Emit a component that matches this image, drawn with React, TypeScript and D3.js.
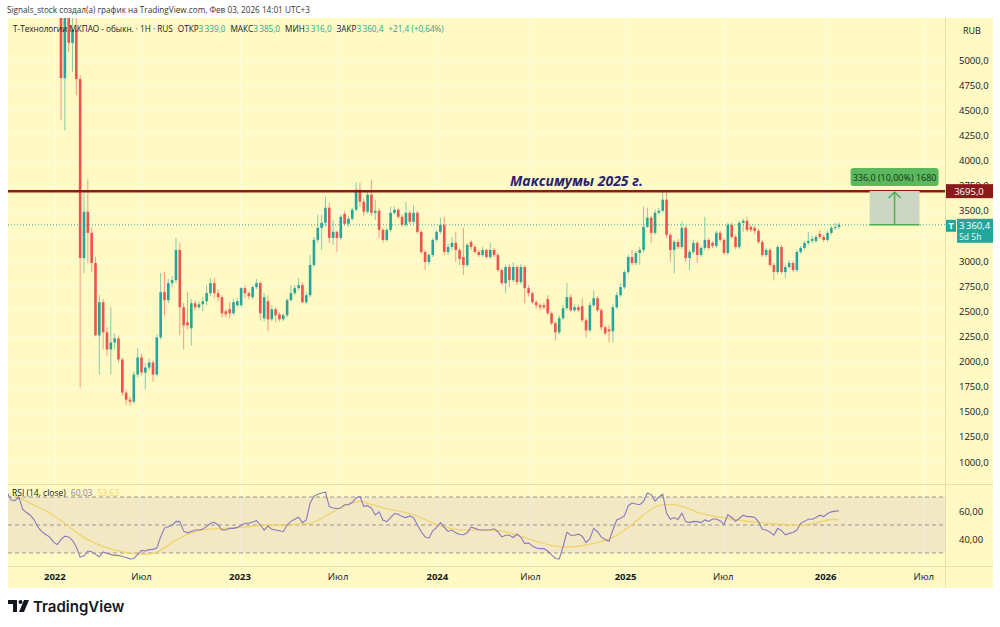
import React from 'react';
import * as d3 from 'd3';

// weekly candles: [open, high, low, close]
type Bar = [number, number, number, number];

const bars2022: Bar[] = [
  [5700, 5900, 4400, 4820], [4820, 5700, 4300, 5550], [5550, 5800, 5080, 5170], [5170, 5550, 4880, 5300],
  [5300, 5450, 4650, 4810], [4810, 4850, 1740, 3030], [3030, 3680, 2880, 3490], [3490, 3810, 2980, 3280],
  [3280, 3330, 2890, 2980], [2980, 3040, 2250, 2260], [2260, 2660, 1870, 2590], [2590, 2620, 2120, 2290],
  [2290, 2340, 2060, 2120], [2120, 2540, 1870, 2190], [2190, 2280, 2120, 2230], [2230, 2260, 1990, 2020],
  [2020, 2040, 1660, 1690], [1690, 1720, 1570, 1620], [1620, 1650, 1560, 1600], [1600, 1900, 1580, 1870],
  [1870, 2130, 1840, 2040], [2040, 2080, 1860, 1890], [1890, 1980, 1720, 1940], [1940, 2030, 1910, 1990],
  [1990, 2010, 1800, 1870], [1870, 2270, 1850, 2240], [2240, 2880, 2220, 2690], [2690, 2890, 2460, 2610],
  [2610, 2820, 2580, 2780], [2780, 2850, 2740, 2810], [2810, 3230, 2780, 3110], [3110, 3180, 2260, 2540],
  [2540, 2580, 2120, 2360], [2390, 2690, 2320, 2360], [2330, 2620, 2160, 2580], [2580, 2610, 2510, 2540],
  [2540, 2600, 2520, 2570], [2570, 2640, 2500, 2600], [2600, 2760, 2560, 2680], [2680, 2830, 2650, 2780],
  [2780, 2830, 2630, 2680], [2680, 2720, 2600, 2640], [2640, 2660, 2440, 2480], [2500, 2520, 2440, 2470],
  [2520, 2590, 2430, 2480], [2480, 2620, 2460, 2590], [2560, 2630, 2540, 2600],
];

const bars2023: Bar[] = [
  [2560, 2740, 2540, 2730], [2730, 2760, 2630, 2680], [2680, 2700, 2620, 2650], [2640, 2760, 2620, 2740],
  [2740, 2820, 2720, 2780], [2780, 2800, 2410, 2480], [2430, 2680, 2400, 2640], [2600, 2660, 2300, 2420],
  [2420, 2560, 2400, 2520], [2520, 2540, 2390, 2460], [2470, 2490, 2400, 2420], [2420, 2480, 2400, 2460],
  [2460, 2630, 2440, 2610], [2610, 2760, 2600, 2680], [2680, 2760, 2660, 2730], [2730, 2830, 2710, 2760],
  [2760, 2790, 2580, 2590], [2590, 2690, 2570, 2660], [2660, 3060, 2640, 2960], [2960, 3240, 2940, 3210],
  [3210, 3460, 3180, 3330], [3330, 3460, 3110, 3380], [3380, 3640, 3340, 3530], [3530, 3580, 3180, 3230],
  [3230, 3410, 3160, 3290], [3290, 3300, 3090, 3230], [3230, 3460, 3210, 3440], [3470, 3500, 3350, 3370],
  [3370, 3450, 3340, 3420], [3420, 3530, 3400, 3510], [3510, 3780, 3490, 3710], [3710, 3780, 3540, 3590],
  [3590, 3620, 3450, 3490], [3490, 3690, 3470, 3660], [3660, 3810, 3450, 3480], [3480, 3610, 3410, 3500],
  [3500, 3530, 3230, 3310], [3310, 3330, 3180, 3210], [3210, 3330, 3190, 3310], [3310, 3540, 3290, 3480],
  [3480, 3540, 3460, 3510], [3510, 3530, 3420, 3440], [3440, 3460, 3340, 3360], [3360, 3590, 3340, 3480],
  [3480, 3500, 3370, 3390], [3390, 3560, 3370, 3480], [3480, 3500, 3270, 3290], [3290, 3300, 3070, 3090],
  [3090, 3110, 2910, 2990], [2990, 3080, 2960, 3060], [3060, 3230, 3040, 3210], [3210, 3310, 3190, 3290],
];

const bars2024: Bar[] = [
  [3290, 3430, 3270, 3360], [3360, 3440, 3060, 3090], [3090, 3170, 3060, 3140], [3140, 3240, 3110, 3180],
  [3180, 3290, 2990, 3110], [3110, 3130, 2960, 3020], [3040, 3330, 2860, 2960], [2960, 3180, 2940, 3160],
  [3190, 3210, 3110, 3140], [3140, 3160, 3070, 3090], [3090, 3110, 3040, 3060], [3060, 3140, 3040, 3110],
  [3110, 3120, 3020, 3040], [3040, 3180, 3020, 3110], [3110, 3130, 3040, 3060], [3060, 3080, 2890, 2910],
  [2910, 2930, 2760, 2780], [2780, 2960, 2680, 2940], [2940, 2970, 2740, 2810], [2810, 2990, 2790, 2940],
  [2940, 2960, 2760, 2790], [2790, 2970, 2770, 2940], [2940, 2960, 2580, 2730], [2730, 2760, 2650, 2680],
  [2680, 2700, 2570, 2590], [2590, 2610, 2530, 2560], [2560, 2580, 2510, 2540], [2560, 2580, 2520, 2540],
  [2620, 2660, 2460, 2480], [2480, 2500, 2360, 2380], [2380, 2400, 2210, 2290], [2290, 2460, 2270, 2430],
  [2430, 2560, 2410, 2530], [2530, 2780, 2510, 2640], [2640, 2670, 2490, 2510], [2510, 2570, 2490, 2540],
  [2540, 2560, 2490, 2510], [2550, 2630, 2390, 2410], [2410, 2430, 2240, 2310], [2310, 2590, 2290, 2560],
  [2560, 2710, 2540, 2630], [2630, 2650, 2490, 2510], [2510, 2530, 2310, 2340], [2340, 2360, 2260, 2280],
  [2320, 2360, 2190, 2300], [2300, 2570, 2190, 2540], [2540, 2690, 2520, 2660], [2660, 2780, 2640, 2740],
  [2740, 2910, 2720, 2890],
];

const bars2025: Bar[] = [
  [2890, 3060, 2870, 3040], [3040, 3110, 2960, 2980], [2980, 3100, 2960, 3080], [3080, 3140, 2960, 3110],
  [3110, 3540, 3090, 3340], [3340, 3530, 3330, 3430], [3430, 3450, 3180, 3280], [3280, 3510, 3260, 3480],
  [3480, 3530, 3460, 3500], [3500, 3690, 3480, 3610], [3610, 3690, 3230, 3260], [3260, 3280, 2990, 3110],
  [3110, 3210, 2880, 3190], [3190, 3220, 3120, 3140], [3140, 3390, 3120, 3330], [3330, 3350, 2990, 3030],
  [3030, 3110, 2910, 3090], [3090, 3210, 3070, 3180], [3180, 3200, 2980, 3060], [3060, 3150, 3040, 3130],
  [3130, 3440, 3110, 3210], [3210, 3230, 3110, 3130], [3180, 3200, 3130, 3150], [3150, 3300, 3130, 3280],
  [3280, 3300, 3190, 3210], [3210, 3230, 3060, 3080], [3080, 3380, 3060, 3360], [3360, 3380, 3220, 3240],
  [3240, 3260, 3120, 3140], [3140, 3400, 3120, 3380], [3380, 3420, 3290, 3400], [3400, 3440, 3290, 3310],
  [3340, 3360, 3290, 3310], [3330, 3350, 3270, 3300], [3300, 3320, 3170, 3190], [3190, 3210, 3040, 3060],
  [3060, 3130, 3040, 3110], [3110, 3130, 2940, 2960], [2960, 2980, 2810, 2890], [2890, 3160, 2870, 3140],
  [3140, 3160, 2870, 2890], [2890, 2960, 2830, 2940], [2940, 3010, 2920, 2980], [2980, 3000, 2890, 2910],
  [2910, 3110, 2890, 3090], [3090, 3150, 3070, 3130], [3130, 3200, 3110, 3180], [3180, 3290, 3160, 3200],
  [3200, 3250, 3180, 3220], [3200, 3260, 3180, 3240], [3270, 3310, 3220, 3240], [3240, 3260, 3190, 3210],
  [3210, 3300, 3190, 3280], [3280, 3350, 3260, 3330], [3330, 3380, 3310, 3339], [3339, 3385, 3316, 3360.4],
];

// RSI(14) per bar; the first 14 belong to bars above the visible price range
const rsiBefore = [73.0, 67.9, 67.4, 70.0, 61.3, 58.9, 57.0, 53.6, 48.5, 45.2, 43.2, 41.5, 37.9, 36.0];
const rsi2022 = [
  39.6, 42.0, 41.5, 39.1, 34.3, 27.0, 27.8, 31.4, 30.9, 29.0, 27.3, 30.7, 29.7, 29.0, 28.3, 28.3,
  27.5, 26.8, 25.8, 26.1, 29.0, 31.9, 31.4, 32.4, 32.6, 33.6, 41.5, 47.8, 48.8, 49.7, 52.6, 52.4,
  45.6, 44.4, 45.4, 46.4, 46.4, 47.1, 48.8, 51.2, 51.9, 50.0, 46.4, 46.4, 47.6, 47.6, 48.3,
];
const rsi2023 = [
  49.7, 51.2, 51.2, 52.2, 53.1, 50.0, 46.4, 49.3, 46.9, 46.4, 45.9, 45.2, 50.0, 52.6, 54.1, 55.5,
  51.7, 53.6, 65.7, 70.5, 72.0, 72.9, 73.4, 63.3, 62.1, 61.8, 62.1, 64.5, 64.5, 66.2, 69.3, 70.5,
  63.3, 63.8, 62.1, 57.2, 59.4, 53.6, 52.4, 55.3, 58.2, 57.7, 56.0, 55.3, 56.5, 55.3, 50.0, 45.2,
  41.5, 40.6, 45.9, 48.1,
];
const rsi2024 = [
  51.7, 48.3, 45.4, 46.4, 44.4, 43.2, 43.0, 44.4, 48.5, 47.6, 46.6, 46.4, 46.4, 46.6, 47.3, 45.2,
  41.5, 42.7, 42.7, 41.1, 43.5, 41.1, 36.7, 37.2, 35.0, 33.6, 33.1, 33.1, 31.4, 28.7, 26.1, 25.8,
  34.3, 44.9, 42.7, 42.7, 43.5, 42.0, 37.4, 40.3, 47.6, 45.2, 41.3, 39.6, 38.4, 46.4, 53.6, 54.8,
  56.5,
];
const rsi2025 = [
  63.8, 65.7, 65.0, 64.5, 66.9, 72.9, 71.7, 67.1, 70.0, 72.0, 58.4, 54.1, 55.3, 53.9, 58.4, 52.4,
  51.7, 52.6, 52.4, 51.7, 53.6, 52.6, 54.3, 54.3, 52.9, 50.5, 57.2, 55.5, 52.6, 54.8, 57.0, 56.0,
  56.0, 55.3, 52.4, 46.9, 46.4, 44.9, 42.7, 47.6, 45.9, 43.0, 44.0, 44.7, 46.4, 51.2, 52.6, 54.1,
  54.1, 55.3, 57.0, 56.0, 58.2, 59.4, 59.9, 60.03,
];

// RSI moving average, read at bar positions
const rsiMaBar = [
  -12.5, -7.3, -2.9, 1.5, 5.8, 10.2, 14.5, 18.9, 21.5, 25, 29.3, 33.7, 38, 43.3, 49.3, 53.7, 58,
  62.4, 65, 67.6, 71.1, 75.5, 78, 79.8, 84.2, 88.5, 92.9, 97.2, 101.6, 106, 110.3, 114.6, 119,
  123.3, 127.7, 132.1, 136.4, 140.7, 145.1, 149.4, 153.8, 157.3, 159.9, 163.4, 166.8, 171.2, 175.5,
  179.9, 184.2, 188.6, 192.9, 197.3, 201.6, 203,
];
const rsiMaValue = [
  71.7, 64.5, 58.4, 50.0, 41.5, 35.5, 31.9, 29.5, 29.0, 30.7, 37.9, 44.0, 46.9, 47.6, 48.8, 50.0, 50.0,
  50.7, 51.2, 54.1, 59.7, 65.2, 66.9, 65.7, 62.1, 59.7, 56.5, 51.2, 47.6, 46.4, 46.4, 45.9, 42.7,
  39.1, 35.5, 34.3, 35.5, 37.9, 42.7, 51.2, 60.9, 64.5, 64.5, 62.1, 58.4, 56.0, 54.1,
  52.4, 51.2, 50.5, 50.0, 51.7, 54.1, 53.63,
];

const priceTicks = [5000, 4750, 4500, 4250, 4000, 3750, 3500, 3250, 3000, 2750, 2500, 2250, 2000, 1750, 1500, 1250, 1000];
const rsiTicks = [60, 40];
const rsiLevels = [70, 50, 30];
const timeTickBar = [-1.6, 21, 46.7, 72.3, 98.2, 122.5, 147.3, 172.8, 199.5, 225.1];
const timeTickLabel = ['2022', 'Июл', '2023', 'Июл', '2024', 'Июл', '2025', 'Июл', '2026', 'Июл'];

const levelPrice = 3695;
const lastPrice = 3360.4;
const measureBars = [211, 224];
const measureChange = 336;

const W = 1000;
const H = 627;
const L = 8;
const R = 945;
const AX = 993;
const TOP = 18;
const MAIN_B = 484;
const RSI_B = 566;
const BOTTOM = 588;

const BG = '#fff9c4';
const UP = '#26a69a';
const DOWN = '#ef5350';
const FONT = '"Open Sans", "Noto Sans", sans-serif';

const locale = d3.formatLocale({decimal: ',', thousands: '\u2009', grouping: [3], currency: ['', '']});
const fmt1 = locale.format(',.1f');   // grouped, for legend and price boxes
const fmtAxis = locale.format('.1f');
const fmt2 = locale.format('.2f');

const App = () => {
  const bars = [...bars2022, ...bars2023, ...bars2024, ...bars2025];
  const rsi = [...rsiBefore, ...rsi2022, ...rsi2023, ...rsi2024, ...rsi2025];
  const rsiStart = -rsiBefore.length;

  const x = d3.scaleLinear().domain([0, bars.length - 1]).range([61, 839]);
  const y = d3.scaleLinear().domain([1000, 5000]).range([462, 60]);
  const yR = d3.scaleLinear().domain([30, 70]).range([553, 497]);
  const step = x(1) - x(0);
  const bw = Math.max(1.5, step * 0.68);

  const rsiLine = d3.line<number>()
    .x((d, i) => x(i + rsiStart))
    .y(d => yR(d));
  const maLine = d3.line<number>()
    .x((d, i) => x(rsiMaBar[i]))
    .y(d => yR(d))
    .curve(d3.curveMonotoneX);

  const mx0 = x(measureBars[0]);
  const mx1 = x(measureBars[1]);
  const mxc = (mx0 + mx1) / 2;
  const myTop = y(lastPrice + measureChange);
  const myBot = y(lastPrice);
  const last = bars[bars.length - 1];
  const prevClose = bars[bars.length - 2][3];
  const change = last[3] - prevClose;

  // labels hidden behind the last-price box
  const yLast = y(lastPrice);
  const axisTicks = priceTicks.filter(p => Math.abs(y(p) - (yLast + 6)) > 14);

  return (
    <svg width={W} height={H} style={{position: 'absolute', left: 0, top: 0, background: '#fff'}}
         fontFamily={FONT}>
      <defs>
        <clipPath id="mainClip"><rect x={L} y={TOP} width={R - L} height={MAIN_B - TOP}/></clipPath>
        <clipPath id="rsiClip"><rect x={L} y={MAIN_B} width={R - L} height={RSI_B - MAIN_B}/></clipPath>
      </defs>

      <text x={7} y={13} fontSize={8.2} fill="#333">
        Signals_stock создал(а) график на TradingView.com, Фев 03, 2026 14:01 UTC+3
      </text>

      <rect x={L} y={TOP} width={AX - L} height={BOTTOM - TOP} fill={BG}/>

      {/* grid */}
      <g stroke="#fffdf0" strokeWidth={1} opacity={0.7}>
        {priceTicks.map(p => <line key={p} x1={L} x2={R} y1={Math.round(y(p)) + 0.5} y2={Math.round(y(p)) + 0.5}/>)}
        {timeTickBar.map((b, i) => (
          <line key={i} x1={Math.round(x(b)) + 0.5} x2={Math.round(x(b)) + 0.5} y1={TOP} y2={RSI_B}/>
        ))}
      </g>

      {/* candles */}
      <g clipPath="url(#mainClip)">
        {bars.map((b, i) => {
          const [o, h, l, c] = b;
          const col = c >= o ? UP : DOWN;
          const cx = x(i);
          const top = y(Math.max(o, c));
          const hh = Math.max(1, Math.abs(y(o) - y(c)));
          return (
            <g key={i}>
              <line x1={cx} x2={cx} y1={y(h)} y2={y(l)} stroke={col} strokeWidth={1} opacity={0.55}/>
              <rect x={cx - bw / 2} y={top} width={bw} height={hh} fill={col}/>
            </g>
          );
        })}
        <line x1={L} x2={R} y1={yLast} y2={yLast} stroke={UP} strokeWidth={1}
              strokeDasharray="1,2" opacity={0.9}/>
        <line x1={L} x2={R} y1={y(levelPrice)} y2={y(levelPrice)} stroke="#8b1a1a" strokeWidth={2.5}/>
      </g>

      {/* measure drawing */}
      <rect x={mx0} y={myTop} width={mx1 - mx0} height={myBot - myTop} fill="#cdd6c4"/>
      <line x1={mx0} x2={mx1} y1={myBot} y2={myBot} stroke="#4caf50" strokeWidth={1.5}/>
      <line x1={mxc} x2={mxc} y1={myBot} y2={myTop + 1} stroke="#4caf50" strokeWidth={1.5}/>
      <polyline points={`${mxc - 6},${myTop + 7} ${mxc},${myTop + 1} ${mxc + 6},${myTop + 7}`}
                fill="none" stroke="#4caf50" strokeWidth={1.5}/>
      <rect x={mxc - 44} y={168} width={88} height={18} rx={3} fill="#5cb85c"/>
      <text x={mxc} y={180.5} fontSize={9} textAnchor="middle" fill="#16301a">
        {`${fmtAxis(measureChange)} (${fmt2(measureChange / lastPrice * 100)}%) 1680`}
      </text>

      <text x={510} y={186} fontSize={14} fontWeight="bold" fontStyle="italic" fill="#2a1f6e">
        Максимумы 2025 г.
      </text>

      {/* legend */}
      <text x={13} y={32} fontSize={8.2} fill="#131722">
        <tspan>Т-Технологии МКПАО - обыкн. · 1Н · RUS</tspan>
        <tspan dx={5}>ОТКР</tspan><tspan fill={UP}>{fmt1(last[0])}</tspan>
        <tspan dx={5}>МАКС</tspan><tspan fill={UP}>{fmt1(last[1])}</tspan>
        <tspan dx={5}>МИН</tspan><tspan fill={UP}>{fmt1(last[2])}</tspan>
        <tspan dx={5}>ЗАКР</tspan><tspan fill={UP}>{fmt1(last[3])}</tspan>
        <tspan dx={5} fill={UP}>{`+${fmt1(change)} (+${fmt2(change / prevClose * 100)}%)`}</tspan>
      </text>

      {/* price axis */}
      <line x1={R + 0.5} x2={R + 0.5} y1={TOP} y2={BOTTOM} stroke="#e6dfae"/>
      <text x={963} y={34} fontSize={9} fill="#131722">RUB</text>
      {axisTicks.map(p => (
        <text key={p} x={959} y={y(p) + 3.5} fontSize={9.5} fill="#131722">{fmtAxis(p)}</text>
      ))}
      <rect x={946} y={y(levelPrice) - 7} width={47} height={14} fill="#8b1a1a"/>
      <text x={969} y={y(levelPrice) + 3.5} fontSize={9.5} fill="#fff" textAnchor="middle">{fmtAxis(levelPrice)}</text>
      <rect x={946} y={yLast - 5} width={10} height={12} fill={UP}/>
      <text x={951} y={yLast + 4.5} fontSize={9} fill="#fff" textAnchor="middle" fontWeight="bold">T</text>
      <rect x={957} y={yLast - 6} width={36} height={24} fill={UP}/>
      <text x={959} y={yLast + 4} fontSize={9.5} fill="#fff">{fmt1(lastPrice)}</text>
      <text x={959} y={yLast + 15} fontSize={8.5} fill="#e8fff9">5d 5h</text>

      {/* RSI pane */}
      <line x1={L} x2={AX} y1={MAIN_B + 0.5} y2={MAIN_B + 0.5} stroke="#e6dfae"/>
      <rect x={L} y={yR(70)} width={R - L} height={yR(30) - yR(70)} fill="#7e57c2" opacity={0.1}/>
      {rsiLevels.map(v => (
        <line key={v} x1={L} x2={R} y1={yR(v)} y2={yR(v)} stroke="#787b86" strokeDasharray="4,3"
              strokeWidth={1} opacity={0.75}/>
      ))}
      <g clipPath="url(#rsiClip)">
        <path d={maLine(rsiMaValue) || ''} fill="none" stroke="#f2d36b" strokeWidth={1.3}/>
        <path d={rsiLine(rsi) || ''} fill="none" stroke="#8a79bd" strokeWidth={1.1}/>
      </g>
      <text x={12} y={496} fontSize={8.5} fill="#131722">
        <tspan>RSI (14, close)</tspan>
        <tspan dx={5} fill="#8a79bd">{fmt2(rsi[rsi.length - 1])}</tspan>
        <tspan dx={5} fill="#f2d36b">{fmt2(rsiMaValue[rsiMaValue.length - 1])}</tspan>
      </text>
      {rsiTicks.map(v => (
        <text key={v} x={959} y={yR(v) + 3.5} fontSize={9.5} fill="#131722">{fmt2(v)}</text>
      ))}

      {/* time axis */}
      <line x1={L} x2={AX} y1={RSI_B + 0.5} y2={RSI_B + 0.5} stroke="#e6dfae"/>
      {timeTickLabel.map((t, i) => (
        <text key={i} x={x(timeTickBar[i])} y={580} fontSize={9.5} textAnchor="middle" fill="#131722"
              fontWeight={/^\d+$/.test(t) ? 'bold' : 'normal'}>{t}</text>
      ))}

      {/* logo */}
      <g fill="#131722">
        <path d="M8,600 h9 v12 h-4 v-8 h-5 z"/>
        <circle cx={20.5} cy={602} r={2}/>
        <path d="M24,600 h5 l-5,12 h-5 z"/>
      </g>
      <text x={33} y={612} fontSize={15} fontWeight={600} fill="#131722"
            fontFamily='"Inter", "Open Sans", sans-serif'>TradingView</text>
    </svg>
  );
};

export default App;
